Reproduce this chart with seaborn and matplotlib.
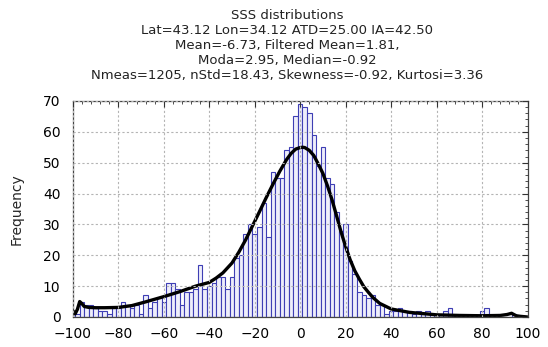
import numpy as np
import pandas as pd
import matplotlib
matplotlib.use("Agg")
import matplotlib.pyplot as plt
from matplotlib.ticker import MultipleLocator
import seaborn as sns

# ---- data ----
bin_centers = list(range(-100, 101, 2))
counts = [
    2, 1, 5, 4, 4, 3, 2, 2, 1, 3,          # -100 .. -82
    3, 5, 4, 3, 4, 1, 7, 3, 5, 6,          # -80 .. -62
    5, 11, 11, 9, 4, 8, 8, 9, 17, 9,       # -60 .. -42
    10, 11, 13, 13, 9, 13, 19, 20, 27, 30, # -40 .. -22
    27, 29, 37, 26, 47, 45, 45, 54, 55, 65,# -20 .. -2
    69, 68, 66, 59, 49, 55, 45, 43, 34, 28,# 0 .. 18
    30, 18, 14, 8, 7, 6, 7, 4, 4, 1,       # 20 .. 38
    2, 2, 3, 2, 2, 1, 2, 1, 2, 0,          # 40 .. 58
    1, 0, 2, 3, 0, 0, 0, 0, 0, 0,          # 60 .. 78
    2, 3, 0, 0, 0, 0, 0, 1, 0, 0, 0        # 80 .. 100
]
curve_x = [-100, -99, -98, -97, -96, -95, -93, -90, -86, -80, -74, -68, -60,
           -53, -46, -40, -37, -34, -30, -27, -24, -21, -18, -15, -12, -9, -6,
           -4, -2, 0, 1, 2, 4, 6, 8, 10, 12, 14, 16, 18, 20, 22, 24, 26, 28,
           30, 32, 35, 40, 48, 60, 70, 80, 88, 91, 93, 95, 97, 100]
curve_y = [2.0, 1.0, 2.5, 5.0, 4.3, 3.4, 3.1, 3.0, 3.0, 3.1, 3.7, 4.9, 6.6,
           8.2, 10.0, 11.2, 12.6, 14.3, 17.5, 21.0, 25.0, 29.5, 34.0, 38.6,
           43.0, 47.2, 51.0, 53.0, 54.4, 54.9, 55.0, 54.9, 54.0, 52.3, 49.5,
           46.5, 42.5, 38.0, 32.8, 27.5, 22.8, 18.5, 15.0, 12.3, 9.8, 8.0,
           6.3, 4.4, 2.6, 1.5, 0.7, 0.5, 0.4, 0.5, 0.8, 1.2, 0.4, 0.2, 0.0]

title_lines = [
    "SSS distributions",
    "Lat=43.12 Lon=34.12 ATD=25.00 IA=42.50",
    "Mean=-6.73, Filtered Mean=1.81,",
    "Moda=2.95, Median=-0.92",
    "Nmeas=1205, nStd=18.43, Skewness=-0.92, Kurtosi=3.36",
]
x_ticks = list(range(-100, 101, 20))
y_ticks = list(range(0, 71, 10))

# ---- plot ----
sns.set_style("white")
plt.rcParams['font.family'] = ['DejaVu Sans']

fig = plt.figure(figsize=(5.48, 3.47), dpi=100)
ax = fig.add_axes([0.133, 0.0865, 0.8296, 0.6225])

df = pd.DataFrame({"x": bin_centers, "w": counts})
sns.histplot(data=df, x="x", weights="w", binwidth=2, binrange=(-101, 101),
             ax=ax, color="#eeeefa", alpha=1.0, edgecolor="#3e3eb4",
             linewidth=0.8)
cdf = pd.DataFrame({"x": curve_x, "y": curve_y})
sns.lineplot(data=cdf, x="x", y="y", ax=ax, color="black", linewidth=2.4)

ax.set_xlim(-100, 100)
ax.set_ylim(0, 70)
ax.set_xticks(x_ticks)
ax.set_yticks(y_ticks)
ax.xaxis.set_minor_locator(MultipleLocator(4))
ax.yaxis.set_minor_locator(MultipleLocator(2))
ax.tick_params(which="both", direction="in", top=True, right=True,
               colors="#333333", labelcolor="black")
ax.tick_params(which="major", length=4, width=0.8, labelsize=10)
ax.tick_params(which="minor", length=2, width=0.6)
ax.tick_params(axis="x", which="major", pad=7)
ax.tick_params(axis="y", which="major", pad=9)
ax.grid(True, which="major", linestyle=(0, (2, 2)), color="#b4b4b4",
        linewidth=0.8)
ax.set_axisbelow(False)
for s in ax.spines.values():
    s.set_color("#444444")
    s.set_linewidth(0.9)
ax.set_xlabel("")
ax.set_ylabel("Frequency", fontsize=10, labelpad=14)
fig.text(0.524, 0.975, "\n".join(title_lines), fontsize=9.5, linespacing=1.22,
         color="#222222", ha="center", va="top")

fig.savefig("out.png", dpi=100)
